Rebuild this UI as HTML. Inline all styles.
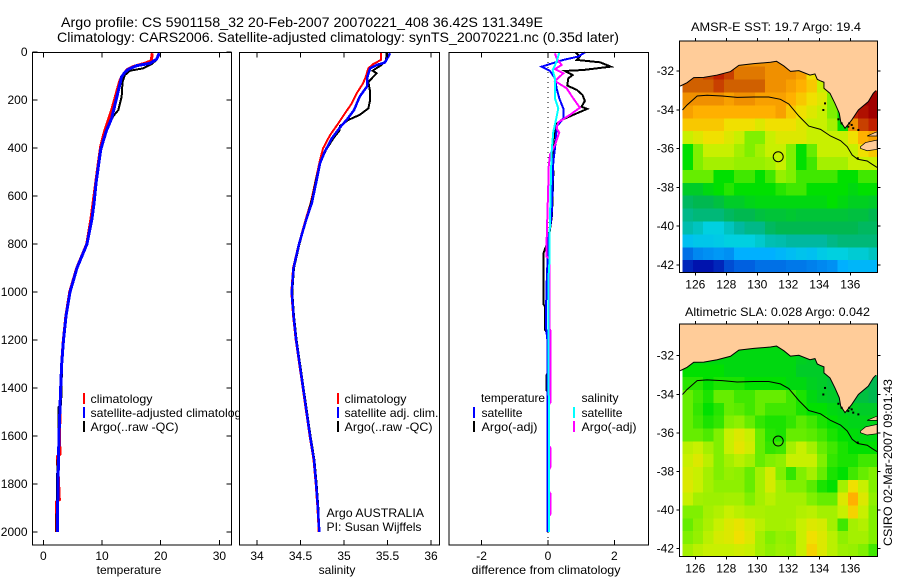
<!DOCTYPE html>
<html>
<head>
<meta charset="utf-8">
<title>Argo profile</title>
<style>
html,body{margin:0;padding:0;background:#fff;width:900px;height:580px;overflow:hidden}
svg{display:block}
text{font-family:"Liberation Sans",sans-serif;font-size:12px;fill:#000}
.t{font-size:14px}
</style>
</head>
<body>
<svg id="fig" xmlns="http://www.w3.org/2000/svg" width="900" height="580" viewBox="0 0 900 580">
<defs>
<clipPath id="clipLegend"><rect x="0" y="0" width="240" height="580"/></clipPath>
<clipPath id="clipMapA"><rect x="679.5" y="41" width="198" height="232"/></clipPath>
<clipPath id="clipMapB"><rect x="679.5" y="324" width="198" height="233"/></clipPath>
</defs>
<text class="t" x="61" y="27" textLength="482" lengthAdjust="spacingAndGlyphs">Argo profile: CS 5901158_32 20-Feb-2007 20070221_408 36.42S 131.349E</text>
<text class="t" x="57" y="42" textLength="562" lengthAdjust="spacingAndGlyphs">Climatology: CARS2006. Satellite-adjusted climatology: synTS_20070221.nc (0.35d later)</text>
<g id="p1"></g>
<g id="p2"></g>
<g id="p3"></g>
<g id="m1"></g>
<g id="m2"></g>
<text x="129" y="574" text-anchor="middle">temperature</text>
<text x="337" y="574" text-anchor="middle">salinity</text>
<text x="546" y="574" text-anchor="middle" textLength="149" lengthAdjust="spacingAndGlyphs">difference from climatology</text>
<text x="691" y="31" textLength="170" lengthAdjust="spacingAndGlyphs">AMSR-E SST: 19.7 Argo: 19.4</text>
<text x="685" y="316" textLength="185" lengthAdjust="spacingAndGlyphs">Altimetric SLA: 0.028 Argo: 0.042</text>
<text transform="translate(892,546) rotate(-90)" textLength="167" lengthAdjust="spacingAndGlyphs">CSIRO 02-Mar-2007 09:01:43</text>
<g clip-path="url(#clipLegend)">
<line x1="84" x2="84" y1="393" y2="404" stroke="#f00" stroke-width="2"/>
<line x1="84" x2="84" y1="407" y2="418" stroke="#00f" stroke-width="2"/>
<line x1="84" x2="84" y1="421" y2="432" stroke="#000" stroke-width="2"/>
<text x="90.5" y="403" textLength="62" lengthAdjust="spacingAndGlyphs">climatology</text>
<text x="90.5" y="417" textLength="157" lengthAdjust="spacingAndGlyphs">satellite-adjusted climatology</text>
<text x="90.5" y="431" textLength="88" lengthAdjust="spacingAndGlyphs">Argo(..raw -QC)</text>
</g>
<g>
<line x1="338" x2="338" y1="393" y2="404" stroke="#f00" stroke-width="2"/>
<line x1="338" x2="338" y1="407" y2="418" stroke="#00f" stroke-width="2"/>
<line x1="338" x2="338" y1="421" y2="432" stroke="#000" stroke-width="2"/>
<text x="344.5" y="403" textLength="62" lengthAdjust="spacingAndGlyphs">climatology</text>
<text x="344.5" y="417" textLength="94" lengthAdjust="spacingAndGlyphs">satellite adj. clim.</text>
<text x="344.5" y="431" textLength="88" lengthAdjust="spacingAndGlyphs">Argo(..raw -QC)</text>
<text x="326.5" y="517" textLength="97.5" lengthAdjust="spacingAndGlyphs">Argo AUSTRALIA</text>
<text x="326.5" y="531" textLength="95" lengthAdjust="spacingAndGlyphs">PI: Susan Wijffels</text>
</g>
<g>
<text x="481" y="402" textLength="64" lengthAdjust="spacingAndGlyphs">temperature</text>
<text x="581.5" y="402" textLength="37" lengthAdjust="spacingAndGlyphs">salinity</text>
<line x1="474" x2="474" y1="407" y2="418" stroke="#00f" stroke-width="2"/>
<line x1="474" x2="474" y1="421" y2="432" stroke="#000" stroke-width="2"/>
<line x1="574" x2="574" y1="407" y2="418" stroke="#0ff" stroke-width="2"/>
<line x1="574" x2="574" y1="421" y2="432" stroke="#f0f" stroke-width="2"/>
<text x="481.5" y="417" textLength="41" lengthAdjust="spacingAndGlyphs">satellite</text>
<text x="481.5" y="431" textLength="56" lengthAdjust="spacingAndGlyphs">Argo(-adj)</text>
<text x="581.5" y="417" textLength="41" lengthAdjust="spacingAndGlyphs">satellite</text>
<text x="581.5" y="431" textLength="55" lengthAdjust="spacingAndGlyphs">Argo(-adj)</text>
</g>
</svg>
<script>
// ---- tick labels ----
const depthTicks = [0,200,400,600,800,1000,1200,1400,1600,1800,2000];
const tempTicks = [0,10,20,30];
const salTicks = [34,34.5,35,35.5,36];
const diffTicks = [-2,0,2];
const lonTicks = [126,128,130,132,134,136];
const latTicks = [-32,-34,-36,-38,-40,-42];

// ---- temperature profiles ----
const tempClimDepth = [5,36,47,61,75,117,158,242,283,339,394,464,547,644,693,800,900,1000,1100,1200,1300,1400,1600,1675,1685,1865,1875,2000];
const tempClim = [18.57,18.4,17.3,15.3,14.2,13.07,12.6,11.65,11.07,10.34,9.77,9.37,8.92,8.4,8.13,7.4,5.7,4.5,3.85,3.42,3.13,2.96,2.75,2.84,2.39,2.73,2.22,2.22];
const tempSatDepth = [5,30,47,57,72,85,103,144,200,276,325,360,408,478,547,630,693,800,900,1000,1100,1200,1300,1400,1600,1800,2000];
const tempSat = [19.76,19.3,18.2,15.9,14.5,13.9,13.35,12.95,12.4,11.65,10.8,10.34,9.77,9.37,8.98,8.64,8.3,7.44,5.74,4.55,3.87,3.44,3.13,2.96,2.67,2.5,2.39];
const tempArgoDepth = [5,33,50,68,78,96,124,186,242,267,297,332,374,450,533,630,693,800,900,1000,1100,1200,1300,1470,1480,1600,1750,1950,2000];
const tempArgo = [19.76,19.3,18.46,17.04,14.77,13.9,13.5,13.35,12.78,11.93,11.25,10.68,10.1,9.49,9.1,8.64,8.3,7.45,5.75,4.55,3.87,3.44,3.2,3.03,2.6,2.62,2.38,2.28,2.28];

// ---- salinity profiles ----
const salClimDepth = [5,33,50,68,103,130,172,214,256,297,346,401,450,547,630,693,800,900,1000,1100,1200,1367,1500,1600,1700,1800,1900,2000];
const salClim = [35.425,35.425,35.337,35.28,35.25,35.22,35.146,35.09,35.01,34.935,34.84,34.76,34.724,34.667,34.617,34.563,34.48,34.415,34.395,34.415,34.445,34.512,34.565,34.605,34.65,34.675,34.695,34.71];
const salSatDepth = [5,44,54,68,103,144,186,242,283,314,360,415,464,547,630,693,800,900,1000,1100,1200,1367,1500,1600,1700,1800,1900,2000];
const salSat = [35.53,35.47,35.376,35.3,35.27,35.264,35.18,35.115,35.03,34.954,34.86,34.78,34.724,34.678,34.63,34.57,34.483,34.42,34.4,34.42,34.45,34.517,34.57,34.61,34.655,34.68,34.7,34.716];
const salArgoDepth = [5,36,54,78,89,124,165,200,235,262,283,308,328,360,408,464,533,603,693,800,900,1000,1100,1200,1367,1500,1600,1700,1800,1900,2000];
const salArgo = [35.49,35.483,35.43,35.33,35.376,35.28,35.3,35.3,35.28,35.18,35.05,34.954,34.946,34.877,34.793,34.724,34.678,34.64,34.57,34.488,34.425,34.405,34.425,34.455,34.522,34.575,34.615,34.66,34.685,34.705,34.712];

// ---- differences from climatology ----
const diffTempArgoDepth = [2,19,33,43,61,75,79,96,110,140,158,179,204,228,237,265,283,304,400,510,680,780,840,1050,1060,1158,1170,1340,1345,1410,1420,2000];
const diffTempArgo = [0.84,0.96,0.87,1.57,1.89,1.06,0.51,0.74,0.61,0.58,0.87,1.04,1.11,1.01,1.18,0.71,0.41,0.21,0.15,0.16,0.12,0.02,-0.14,-0.14,-0.09,-0.09,-0.02,-0.02,-0.04,-0.04,0,0];
const diffTempSatDepth = [2,19,33,61,79,110,152,193,235,277,311,360,401,457,550,680,783,963,1075,1146,1200,2000];
const diffTempSat = [1.11,0.91,0.46,-0.19,0.06,0.21,0.26,0.34,0.46,0.46,0.26,0.24,0.21,0.16,0.14,0.11,0.01,-0.04,-0.06,-0.06,-0.02,-0.02];
const diffSalArgoDepth = [6,26,54,71,89,121,151,193,232,262,293,318,335,387,429,490,545,783,853,860,1150,1160,1460,1470,1640,1650,1730,1740,1830,1840,1925,1935,2000];
const diffSalArgo = [0.21,0.26,0.41,0.21,0.46,0.21,0.56,0.76,0.96,0.66,0.31,0.26,0.34,0.21,0.06,0.01,0.01,-0.04,-0.04,0.04,0.04,0.07,0.07,0.03,0.03,0.07,0.07,0.03,0.03,0.07,0.07,0.03,0.03];
const diffSalSatDepth = [2,40,75,110,152,193,235,270,332,415,510,700,800,880,950,1400,1450,2000];
const diffSalSat = [0.34,0.26,0.14,0.21,0.21,0.21,0.31,0.26,0.16,0.11,0.09,0.06,0.04,0.04,0.01,0.01,0.03,0.03];

// ---- maps: colour levels per grid cell (rows north to south, columns west to east) ----
const sstLevels = [
[null,null,null,null,null,null,null,null,null,null,null,null,null,null,null,null,null,null,null],
[null,null,null,null,null,11,11,11,11,11,11,null,null,null,null,null,null,null,null],
[12,12,12.5,13,12.5,11.5,11.5,11.5,11,11,11,10.5,9,8,null,null,null,null,null],
[12,12,12,12.5,12,12,12,12,11,11,10.5,10,9.5,8,9,9,13,13.5,13.5],
[11,11,11,11,10.5,11,11,10.5,10.5,10.5,10,9.5,9,8.5,7,6,13,14,14],
[10.5,10,10,10,10,10,10,10,10,10.5,9.5,9,8.5,8,7,6,13,13.5,14],
[9.5,9.5,9.5,9.5,9,9,9,8.5,9,9,9,8.5,8,8,7.5,6,11,12.5,13],
[8,8.5,9,9,8.5,8,7,7,8,8.5,8.5,8.5,8,8,8,8,9,10,10.5],
[6,7,8,8,8,7.5,7,7.5,8,8,7,6,6.8,8,8,8,8,9,9.5],
[6,7,7.5,7.5,7.5,7.3,7.3,7.3,7.5,8,7,6,6.5,7.5,7.5,7.5,8,8,8],
[6.8,6.8,6.8,6,6,6.5,6.5,6,6.5,7.3,7,6.5,6.5,6.5,6.5,6,6,6.5,6.5],
[5.5,5.5,5.8,6,6.3,6,6,6,6,6.3,6.5,6.5,6,6,6,6,5.8,6,6],
[4.8,5,5,5.2,5.5,5.5,5.7,5.8,5.8,5.8,5.8,5.8,5.8,5.8,6,5.8,5.6,5.6,5.5],
[4.3,4.5,4.5,4.5,4.8,5,5,5.2,5.3,5.3,5.4,5.3,5.3,5.3,5.3,5.3,5.2,5.2,5],
[3.8,3.5,3,3,3.5,4,4.3,4.3,4.8,5,5,5,5,5,5,5,5,4.8,4.8],
[2.5,2.7,2.7,2.8,3,3,3,3.3,3.7,3.8,4,4,4,4,4.3,4.5,4.5,4.5,4.5],
[1.2,1.5,1.6,1.7,1.6,2,2,2,2,2.2,2.4,2.6,2.5,2.8,3,3,3.2,3.2,3.5],
[0.4,0.2,0.2,0.4,0.8,1,1,1.2,1.2,1.2,1.3,1.3,1.4,1.5,1.6,2,2.2,2.2,2.2]
];
const slaLevels = [
[null,null,null,null,null,null,null,null,null,null,null,null,null,null,null,null,null,null,null],
[null,null,null,null,null,5.8,5.8,5.8,5.8,5.8,5.8,null,null,null,null,null,null,null,null],
[5.8,5.8,5.8,5.8,5.8,5.8,5.8,5.8,5.8,5.8,5.8,5.6,5.5,5.5,null,null,null,null,null],
[6,6,6,6,5.8,5.8,5.8,5.8,5.8,5.8,5.8,5.5,5.5,5.5,5.5,5,5,5,5],
[6.3,6.3,6,6.2,6.2,6.2,6,6,6,6,5.8,5.8,5.6,5.5,5.3,5.3,5.2,5,5],
[6.8,6.5,6.2,6.8,6.8,6.5,6.5,6.8,6.8,6.8,6.5,6.2,5.8,5.6,5.5,5.4,5.2,5.2,5],
[6.8,6.4,6,6.3,6.8,6.7,6.5,6.8,6.5,6.5,6.5,6.2,6,6,5.8,5.7,5.6,5.5,5.5],
[6.8,6.5,6.2,6.4,7,7.2,6.8,6.4,6.2,6.2,6.4,6.7,6.5,6.2,6,5.8,5.7,5.7,5.7],
[6.8,6.8,6.6,7,8,8.5,8,6.8,6.3,6.2,6.8,6.8,6.7,6.5,6.2,6,5.9,5.8,5.8],
[7.8,8,7.5,7,8,8.7,8.2,6.8,6.4,6.5,7.5,8,7.5,6.8,6.5,6.2,6,6,6],
[8,8.5,7.8,7,7.5,7.8,7.5,6.8,7,7.2,8,8,8,7,6.4,6.2,6.2,6.5,6.5],
[8.3,8,7.5,7,7.3,7.2,6.8,7.5,8.3,7,6.4,7,7.5,6.8,6.2,6,6.5,6.8,7],
[8.5,8,7.5,7.2,7.2,7.2,6.8,7.5,8.3,7.5,7,7,6.7,6.2,6,7.5,9,8,7],
[8,7.5,7.4,7.4,7.5,7.5,7,7.5,7.8,7.5,7.5,7.5,7,6.8,6.8,8.5,10,8.5,7.2],
[7,7,7.5,7.7,8,7.8,7.6,7.6,7.5,7.5,7.5,7.7,7.8,7.5,7.5,8,9.3,8,7],
[6.8,7.2,7.6,8,8.5,8.8,8.3,7.8,7.5,7.5,7.6,8,8.5,8.3,7.5,6.5,7.5,7.7,7],
[7,7.3,7.8,8.3,8.5,9,8.5,7.5,7,7.3,7.2,8,9,8.5,7.8,7.2,7.5,7.5,7],
[7.5,7.8,8,8,8,8.2,8,7.5,7.2,7.4,7.3,8,9.3,8.5,7.8,7.4,7.3,7,6.5]
];
const coastLon = [125.02,125.47,125.90,126.55,127.41,128.27,128.81,129.77,130.85,131.24,131.71,132.14,132.68,133.40,133.72,133.87,134.05,134.30,134.30,134.69,135.01,135.29,135.38,135.66,136.09,136.52,137.16,137.48,137.65];
const coastLat = [-32.78,-32.60,-32.34,-32.33,-32.21,-32.03,-31.71,-31.62,-31.55,-31.50,-31.74,-32.02,-31.98,-32.21,-32.15,-32.43,-32.50,-32.58,-32.89,-33.15,-33.67,-34.18,-34.61,-34.95,-34.53,-34.01,-33.58,-33.15,-33.01];
const isobathLon = [125.17,125.47,126.12,126.76,127.73,128.70,129.77,130.74,131.49,132.03,132.68,133.32,134.08,134.72,135.37,135.80,136.12,136.48,137.09,137.41,137.73];
const isobathLat = [-34.01,-33.75,-33.29,-33.25,-33.29,-33.36,-33.34,-33.34,-33.46,-33.70,-34.32,-34.84,-35.01,-35.35,-35.59,-35.90,-36.33,-36.55,-36.64,-36.81,-36.97];
const islandLon = [136.66,136.98,137.73,137.73,137.09,136.66];
const islandLat = [-35.90,-35.69,-35.56,-36.04,-36.11,-35.99];
const capeLon = [137.09,137.73,137.73];
const capeLat = [-35.35,-35.13,-35.35];
const speckLon = [134.37,134.26,135.23,135.44,135.93,135.87,136.09,136.19,136.52,136.48];
const speckLat = [-33.67,-34.01,-34.49,-34.70,-34.70,-34.87,-34.78,-34.95,-35.04,-36.50];
const floatLon = [131.349];
const floatLat = [-36.42];
const levelColours = ['#0000a0','#0060e0','#00b0ff','#00d0e0','#00b8a0','#00b850','#00e000','#80f000','#c8f000','#f0e000','#ffb000','#f09000','#d06000','#c02000','#a00000'];

// ---- axis functions ----
const yDepth = d => 52 + d * 0.24;
const xTemp = v => 43.3 + v * 5.87;
const xSal = v => 257 + (v - 34) * 87;
const xDiff = v => 548 + v * 33.2;
const mapX = lon => 695.3 + (lon - 126) * 15.5;
const mapAY = lat => 71 + (-32 - lat) * 19.4;
const mapBY = lat => 355.7 + (-32 - lat) * 19.3;

const NS = 'http://www.w3.org/2000/svg';
function mk(tag, attrs, parent, txt) {
  const el = document.createElementNS(NS, tag);
  for (const k in attrs) el.setAttribute(k, attrs[k]);
  if (txt !== undefined) el.textContent = txt;
  parent.appendChild(el);
  return el;
}
function pts(xs, ys, fx, fy) {
  return xs.map((v, i) => fx(v).toFixed(2) + ',' + fy(ys[i]).toFixed(2)).join(' ');
}
function drawSeries(parent, vals, depth, fx, colour, width, name) {
  const el = mk('polyline', {points: pts(vals, depth, fx, yDepth), fill: 'none', stroke: colour, 'stroke-width': width, 'shape-rendering': 'crispEdges', 'stroke-linejoin': 'miter'}, parent);
  
  
}
function tickLine(parent, x1, y1, x2, y2) {
  const el = mk('line', {x1, y1, x2, y2, stroke: '#000', 'stroke-width': 1, 'shape-rendering': 'crispEdges'}, parent);
  
  
}
function tickText(parent, x, y, anchor, s) {
  const el = mk('text', {x, y, 'text-anchor': anchor}, parent, s);
  
  
}
function profileFrame(parent, x0, x1, ticks, fx, withDepth) {
  const box = mk('rect', {x: x0, y: 52.5, width: x1 - x0, height: 492.5, fill: 'none', stroke: '#000', 'stroke-width': 1, 'shape-rendering': 'crispEdges'}, parent);
  
  
  ticks.forEach(t => {
    tickLine(parent, fx(t), 52.5, fx(t), 57.5);
    tickLine(parent, fx(t), 545, fx(t), 540);
    tickText(parent, fx(t), 560, 'middle', String(t));
  });
  if (withDepth) depthTicks.forEach(d => {
    tickLine(parent, x0, yDepth(d), x0 + 5, yDepth(d));
    tickLine(parent, x1, yDepth(d), x1 - 5, yDepth(d));
    tickText(parent, 27.5, yDepth(d) + 4, 'end', String(d));
  });
}

// ---- profile panels ----
const p1 = document.getElementById('p1');
drawSeries(p1, tempClim, tempClimDepth, xTemp, '#f00', 3, 'temperature-climatology-line');
drawSeries(p1, tempArgo, tempArgoDepth, xTemp, '#000', 2, 'temperature-argo-line');
drawSeries(p1, tempSat, tempSatDepth, xTemp, '#00f', 3, 'temperature-satellite-line');
profileFrame(p1, 32.5, 231.5, tempTicks, xTemp, true);

const p2 = document.getElementById('p2');
drawSeries(p2, salClim, salClimDepth, xSal, '#f00', 2, 'salinity-climatology-line');
drawSeries(p2, salArgo, salArgoDepth, xSal, '#000', 2, 'salinity-argo-line');
drawSeries(p2, salSat, salSatDepth, xSal, '#00f', 2.5, 'salinity-satellite-line');
profileFrame(p2, 239.5, 439.5, salTicks, xSal, false);

const p3 = document.getElementById('p3');
const zeroLine = mk('line', {x1: xDiff(0), x2: xDiff(0), y1: 52, y2: 540, stroke: '#000', 'stroke-width': 1, 'stroke-dasharray': '1 4', 'shape-rendering': 'crispEdges'}, p3);


drawSeries(p3, diffTempArgo, diffTempArgoDepth, xDiff, '#000', 2, 'diff-temperature-argo-line');
drawSeries(p3, diffTempSat, diffTempSatDepth, xDiff, '#00f', 2, 'diff-temperature-satellite-line');
drawSeries(p3, diffSalArgo, diffSalArgoDepth, xDiff, '#f0f', 2, 'diff-salinity-argo-line');
drawSeries(p3, diffSalSat, diffSalSatDepth, xDiff, '#0ff', 2, 'diff-salinity-satellite-line');
profileFrame(p3, 449, 648.5, diffTicks, xDiff, false);

// ---- maps ----
function hex(c) { return [1, 3, 5].map(i => parseInt(c.substr(i, 2), 16)); }
function levelColour(v) {
  const i = Math.max(0, Math.min(levelColours.length - 1.001, v));
  const a = Math.floor(i), f = i - a;
  const c0 = hex(levelColours[a]), c1 = hex(levelColours[a + 1]);
  return 'rgb(' + c0.map((c, k) => Math.round(c + (c1[k] - c) * f)).join(',') + ')';
}
const CELL_LON = 0.6667, CELL_LAT = 0.665, GRID_LON0 = 125.17, GRID_LAT0 = -30.45;
function drawMap(parent, levels, fy, clipId, top, bottom) {
  const left = 679.5, right = 877.5;
  const inner = mk('g', {'clip-path': 'url(#' + clipId + ')'}, parent);
  
  
  levels.forEach((row, r) => row.forEach((v, c) => {
    if (v === null) return;
    const lon = GRID_LON0 + c * CELL_LON;
    const lat = GRID_LAT0 - r * CELL_LAT;
    const cell = mk('rect', {x: mapX(lon), y: fy(lat), width: mapX(lon + CELL_LON) - mapX(lon) + 0.5, height: fy(lat - CELL_LAT) - fy(lat) + 0.5, fill: levelColour(v), 'shape-rendering': 'crispEdges'}, inner);
    
    
  }));
  const landLon = [125].concat(coastLon, [137.9, 137.9, 125]);
  const landLat = [coastLat[0]].concat(coastLat, [coastLat[coastLat.length - 1], -30, -30]);
  const land = mk('polygon', {points: pts(landLon, landLat, mapX, fy), fill: '#ffcc99'}, inner);
  
  
  const coast = mk('polyline', {points: pts(coastLon, coastLat, mapX, fy), fill: 'none', stroke: '#000', 'stroke-width': 1}, inner);
  
  
  const cape = mk('polygon', {points: pts(capeLon, capeLat, mapX, fy), fill: '#ffcc99', stroke: '#000', 'stroke-width': 0.7}, inner);
  
  
  const island = mk('polygon', {points: pts(islandLon, islandLat, mapX, fy), fill: '#ffcc99', stroke: '#000', 'stroke-width': 0.7}, inner);
  
  
  speckLon.forEach((lon, i) => {
    const speck = mk('rect', {x: mapX(lon) - 1, y: fy(speckLat[i]) - 1, width: 2, height: 2, fill: '#000'}, inner);
    
    
  });
  const iso = mk('polyline', {points: pts(isobathLon, isobathLat, mapX, fy), fill: 'none', stroke: '#000', 'stroke-width': 1}, inner);
  
  
  const marker = mk('circle', {cx: mapX(floatLon[0]), cy: fy(floatLat[0]), r: 5, fill: 'none', stroke: '#000', 'stroke-width': 1}, inner);
  
  
  const frame = mk('rect', {x: left, y: top, width: right - left, height: bottom - top, fill: 'none', stroke: '#000', 'stroke-width': 1, 'shape-rendering': 'crispEdges'}, parent);
  
  
  lonTicks.forEach(t => {
    tickLine(parent, mapX(t), top, mapX(t), top - 3);
    tickLine(parent, mapX(t), bottom, mapX(t), bottom + 3);
    tickText(parent, mapX(t), bottom + 16, 'middle', String(t));
  });
  latTicks.forEach(t => {
    tickLine(parent, left, fy(t), left - 3, fy(t));
    tickLine(parent, right, fy(t), right + 3, fy(t));
    tickText(parent, 674, fy(t) + 4, 'end', String(t));
  });
}
drawMap(document.getElementById('m1'), sstLevels, mapAY, 'clipMapA', 41, 272.5);
drawMap(document.getElementById('m2'), slaLevels, mapBY, 'clipMapB', 324, 556.5);
</script>
</body>
</html>
